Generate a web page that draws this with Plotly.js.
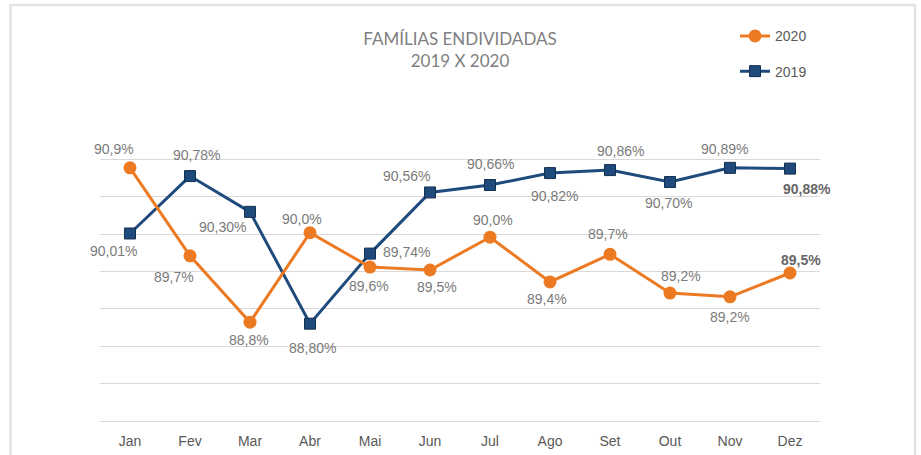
<!DOCTYPE html>
<html>
<head>
<meta charset="utf-8">
<script src="https://cdn.plot.ly/plotly-3.0.1.min.js"></script>
<style>html,body{margin:0;padding:0;background:#fff;}#chart{width:921px;height:455px;}</style>
</head>
<body>
<div id="chart"></div>
<script>
// ---- data ----
const months = ["Jan","Fev","Mar","Abr","Mai","Jun","Jul","Ago","Set","Out","Nov","Dez"];
const values2020 = [90.89, 89.71, 88.82, 90.02, 89.56, 89.52, 89.96, 89.36, 89.73, 89.21, 89.16, 89.48];
const values2019 = [90.01, 90.78, 90.30, 88.80, 89.74, 90.56, 90.66, 90.82, 90.86, 90.70, 90.89, 90.88];
const name2020 = "2020";
const name2019 = "2019";

// ---- label placement (pixel offsets from marker) ----
const off2020 = [[-16,-19],[-16,21],[-1,18],[-8,-14],[-1,19],[7,17],[3,-17],[-3,17],[-2,-20],[11,-17],[0,20],[11,-13]];
const off2019 = [[-17,18],[6,-21],[-28,15],[2,24],[36,-2],[-24,-16],[0,-21],[4,23],[10,-19],[-2,21],[-6,-19],[17,20]];

const orange = "#EC7A22";
const navy = "#1F4A7C";
const labelColor = "#7a7a7a";

function fmt(v, d) { return v.toFixed(d).replace(".", ",") + "%"; }

const annotations = [];
function addLabels(vals, offs, dec) {
  vals.forEach((v, i) => {
    const last = i === vals.length - 1;
    annotations.push({
      x: months[i], y: v, xref: "x", yref: "y",
      text: last ? "<b>" + fmt(v, dec) + "</b>" : fmt(v, dec),
      showarrow: false,
      xshift: offs[i][0], yshift: -offs[i][1],
      font: {family: "Liberation Sans, Arial, sans-serif", size: 14, color: last ? "#666666" : labelColor}
    });
  });
}
addLabels(values2020, off2020, 1);
addLabels(values2019, off2019, 2);

const traces = [
  {
    x: months, y: values2019, name: name2019, type: "scatter", mode: "lines+markers",
    line: {color: navy, width: 3},
    marker: {symbol: "square", size: 11, color: navy, line: {color: "#14304f", width: 1}},
    legendgroup: "b", legendrank: 2, hoverinfo: "none"
  },
  {
    x: months, y: values2020, name: name2020, type: "scatter", mode: "lines+markers",
    line: {color: orange, width: 3},
    marker: {symbol: "circle", size: 13, color: orange},
    legendgroup: "a", legendrank: 1, hoverinfo: "none"
  }
];

const layout = {
  width: 921, height: 455,
  paper_bgcolor: "#ffffff", plot_bgcolor: "#ffffff",
  margin: {l: 100, r: 101, t: 122, b: 34},
  title: {
    text: "FAMÍLIAS ENDIVIDADAS<br>2019 X 2020",
    x: 0.5, xref: "paper", xanchor: "center",
    y: 0.901, yref: "container", yanchor: "top",
    font: {family: "Lato, sans-serif", size: 17, color: "#7f7f7f"}
  },
  showlegend: true,
  legend: {
    x: 0.882, xanchor: "left", xref: "paper",
    y: 1.34, yanchor: "top", yref: "paper",
    traceorder: "grouped", tracegroupgap: 14,
    font: {family: "Liberation Sans, Arial, sans-serif", size: 14, color: "#595959"},
    bgcolor: "rgba(0,0,0,0)"
  },
  xaxis: {
    type: "category", range: [-0.5, 11.5],
    showgrid: false, zeroline: false, ticks: "",
    showline: true, linecolor: "#d9d9d9", linewidth: 1,
    ticklabelstandoff: 7,
    tickfont: {family: "Liberation Sans, Arial, sans-serif", size: 14, color: "#595959"},
    fixedrange: true
  },
  yaxis: {
    range: [87.495, 91.505], tick0: 87.5, dtick: 0.5,
    showticklabels: false, ticks: "", zeroline: false, showline: false,
    showgrid: true, gridcolor: "#d9d9d9", gridwidth: 1,
    fixedrange: true
  },
  annotations: annotations,
  shapes: [{
    type: "rect", xref: "paper", yref: "paper",
    x0: -0.1243, x1: 1.1319, y0: -0.2, y1: 1.391,
    line: {color: "#e3e3e3", width: 2.5}, fillcolor: "rgba(0,0,0,0)", layer: "below"
  }]
};

Plotly.newPlot("chart", traces, layout, {displayModeBar: false, staticPlot: true});
</script>
</body>
</html>
